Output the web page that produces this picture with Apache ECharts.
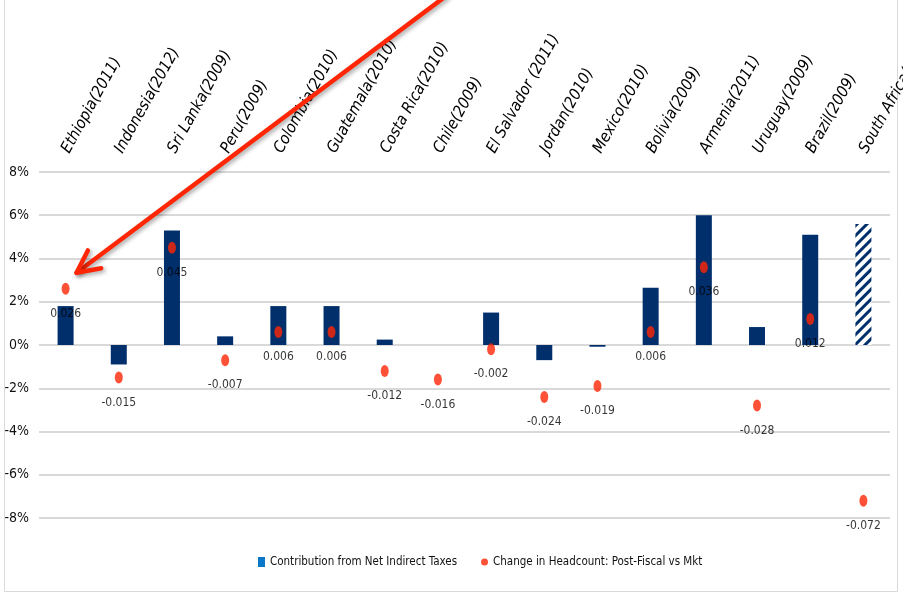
<!DOCTYPE html>
<html>
<head>
<meta charset="utf-8">
<script src="https://cdn.jsdelivr.net/npm/echarts@6/dist/echarts.min.js"></script>
<style>
  html, body { margin: 0; padding: 0; background: #fff; }
  #chart { width: 903px; height: 593px; }
</style>
</head>
<body>
<div id="chart"></div>
<script>
const countries = ['Ethiopia(2011)', 'Indonesia(2012)', 'Sri Lanka(2009)', 'Peru(2009)', 'Colombia(2010)',
  'Guatemala(2010)', 'Costa Rica(2010)', 'Chile(2009)', 'El Salvador (2011)', 'Jordan(2010)',
  'Mexico(2010)', 'Bolivia(2009)', 'Armenia(2011)', 'Uruguay(2009)', 'Brazil(2009)', 'South Africa(2010)'];

// contribution from net indirect taxes (bars)
const indirectTaxes = [0.018, -0.009, 0.053, 0.004, 0.018, 0.018, 0.0025, 0, 0.015, -0.007,
  -0.0008, 0.0265, 0.06, 0.0083, 0.051, 0.056];

// change in headcount post-fiscal vs market (dots)
const headcountChange = [0.026, -0.015, 0.045, -0.007, 0.006, 0.006, -0.012, -0.016, -0.002, -0.024,
  -0.019, 0.006, 0.036, -0.028, 0.012, -0.072];

const yTicks = { min: -0.08, max: 0.08, step: 0.02 };

const font = "'DejaVu Sans Condensed', 'Liberation Sans', sans-serif";
const navy = '#002f6c';
const red = '#ff2605';

const chart = echarts.init(document.getElementById('chart'));

const barData = indirectTaxes.map((v, i) => {
  if (i === countries.length - 1) {
    return {
      value: v,
      itemStyle: {
        color: '#ffffff',
        decal: {
          symbol: 'rect',
          symbolSize: 1,
          dashArrayX: [1, 0],
          dashArrayY: [3, 4],
          rotation: -Math.PI / 4,
          color: navy
        }
      }
    };
  }
  return v;
});

const option = {
  animation: false,
  textStyle: { fontFamily: font },
  grid: { left: 39, right: 13, top: 172, bottom: 75, containLabel: false, outerBoundsMode: 'none' },
  legend: {
    bottom: 20,
    left: 253,
    itemWidth: 7,
    itemHeight: 10,
    itemGap: 24,
    itemTextGap: 3,
    textStyle: { fontFamily: font, fontSize: 11.5, color: '#111' },
    data: [
      { name: 'Contribution from Net Indirect Taxes', icon: 'rect', itemStyle: { color: '#0a78c8' } },
      { name: 'Change in Headcount: Post-Fiscal vs Mkt', icon: 'circle', itemStyle: { color: red } }
    ]
  },
  xAxis: {
    type: 'category',
    position: 'top',
    data: countries,
    axisLine: { show: false },
    axisTick: { show: false },
    axisLabel: {
      interval: 0,
      rotate: 61,
      margin: 20,
      fontFamily: font,
      fontSize: 16,
      fontStyle: 'italic',
      color: '#000'
    }
  },
  yAxis: {
    type: 'value',
    min: yTicks.min,
    max: yTicks.max,
    interval: yTicks.step,
    axisLine: { show: false },
    axisTick: { show: false },
    axisLabel: {
      fontFamily: font,
      fontSize: 14,
      color: '#111',
      margin: 10,
      formatter: (v) => Math.round(v * 100) + '%'
    },
    splitLine: { lineStyle: { color: '#d9d9d9', width: 2 } }
  },
  series: [
    {
      name: 'Contribution from Net Indirect Taxes',
      type: 'bar',
      barWidth: 16,
      itemStyle: { color: navy },
      data: barData
    },
    {
      name: 'Change in Headcount: Post-Fiscal vs Mkt',
      type: 'scatter',
      symbol: 'circle',
      symbolSize: [8, 12],
      itemStyle: { color: red },
      label: {
        show: true,
        position: 'bottom',
        distance: 13,
        fontFamily: font,
        fontSize: 12,
        color: '#000',
        formatter: (p) => p.value.toFixed(3)
      },
      data: headcountChange
    }
  ]
};

chart.setOption(option);

// annotation arrow pointing at the Ethiopia dot
const dot = chart.convertToPixel({ seriesIndex: 1 }, [0, headcountChange[0]]);
const tip = [dot[0] + 11, dot[1] - 16];
const tail = [446, -4];
const ang = Math.atan2(tail[1] - tip[1], tail[0] - tip[0]);
const armLen = 25;
const spread = 0.46;
const arm1 = [tip[0] + armLen * Math.cos(ang + spread), tip[1] + armLen * Math.sin(ang + spread)];
const arm2 = [tip[0] + armLen * Math.cos(ang - spread), tip[1] + armLen * Math.sin(ang - spread)];
const arrowStyle = {
  stroke: red,
  lineWidth: 4.5,
  lineCap: 'round',
  lineJoin: 'round',
  shadowBlur: 4,
  shadowColor: 'rgba(0,0,0,0.35)',
  shadowOffsetX: 2,
  shadowOffsetY: 2
};

chart.setOption({
  graphic: [
    {
      type: 'rect',
      silent: true,
      shape: { x: 4.5, y: -5, width: 893, height: 596.5 },
      style: { fill: null, stroke: '#d9d9d9', lineWidth: 1 }
    },
    {
      type: 'line',
      silent: true,
      shape: { x1: tail[0], y1: tail[1], x2: tip[0], y2: tip[1] },
      style: arrowStyle,
      z: 100
    },
    {
      type: 'polyline',
      silent: true,
      shape: { points: [arm1, tip, arm2] },
      style: Object.assign({ fill: null }, arrowStyle),
      z: 100
    }
  ]
});
</script>
</body>
</html>
